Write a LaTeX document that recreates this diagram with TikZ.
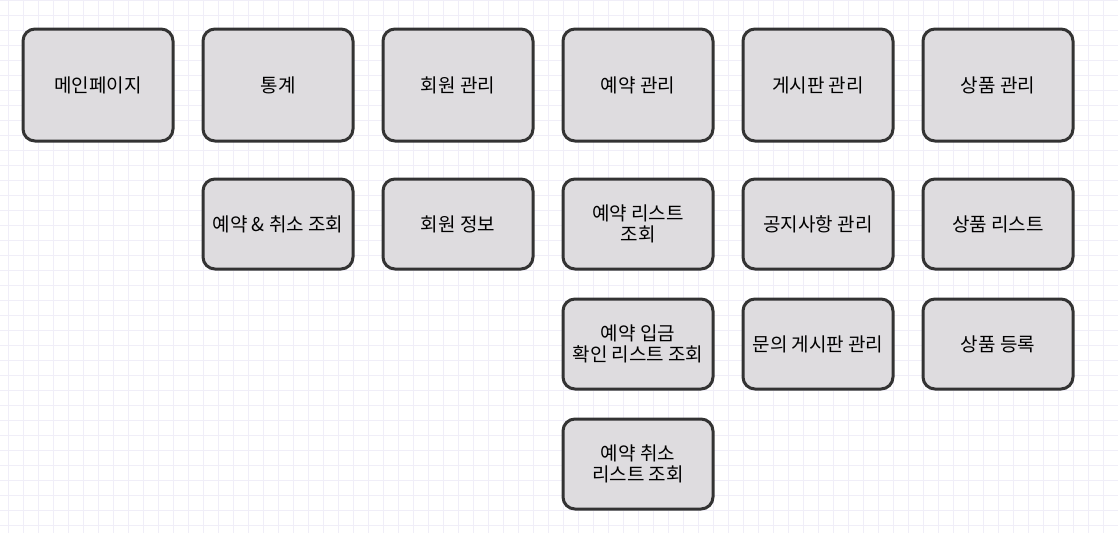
\documentclass[tikz,border=0pt]{standalone}
\usepackage{fontspec}
\setmainfont{Noto Sans CJK KR}
\definecolor{gridc}{HTML}{F0EEF8}
\definecolor{boxfill}{HTML}{DEDCDF}
\definecolor{boxline}{HTML}{333333}
\tikzset{
  card/.style={draw=boxline, line width=3pt, fill=boxfill, rounded corners=12pt,
    minimum width=150pt, align=center, inner sep=2pt,
    font=\fontsize{19pt}{21pt}\selectfont, text=black},
  tall/.style={card, minimum height=112pt},
  short/.style={card, minimum height=90pt}
}
\begin{document}
\begin{tikzpicture}[x=1pt,y=-1pt]
\useasboundingbox (0,0) rectangle (1118,533);
\fill[white] (0,0) rectangle (1118,533);
\foreach \i in {0,...,74} {\draw[gridc, line width=1pt] (8+15*\i,0) -- (8+15*\i,533);}
\foreach \j in {0,...,35} {\draw[gridc, line width=1pt] (0,15*\j) -- (1118,15*\j);}
% row 1
\node[tall] (main) at (98,85) {메인페이지};
\node[tall] (stat) at (278,85) {통계};
\node[tall] (member) at (458,85) {회원 관리};
\node[tall] (resv) at (638,85) {예약 관리};
\node[tall] (board) at (818,85) {게시판 관리};
\node[tall] (goods) at (998,85) {상품 관리};
% row 2
\node[short] (statq) at (278,224) {예약 \& 취소 조회};
\node[short] (minfo) at (458,224) {회원 정보};
\node[short] (rlist) at (638,224) {예약 리스트\\조회};
\node[short] (notice) at (818,224) {공지사항 관리};
\node[short] (glist) at (998,224) {상품 리스트};
% row 3
\node[short] (rpay) at (638,344) {예약 입금\\확인 리스트 조회};
\node[short] (qna) at (818,344) {문의 게시판 관리};
\node[short] (greg) at (998,344) {상품 등록};
% row 4
\node[short] (rcancel) at (638,464) {예약 취소\\리스트 조회};
\end{tikzpicture}
\end{document}
